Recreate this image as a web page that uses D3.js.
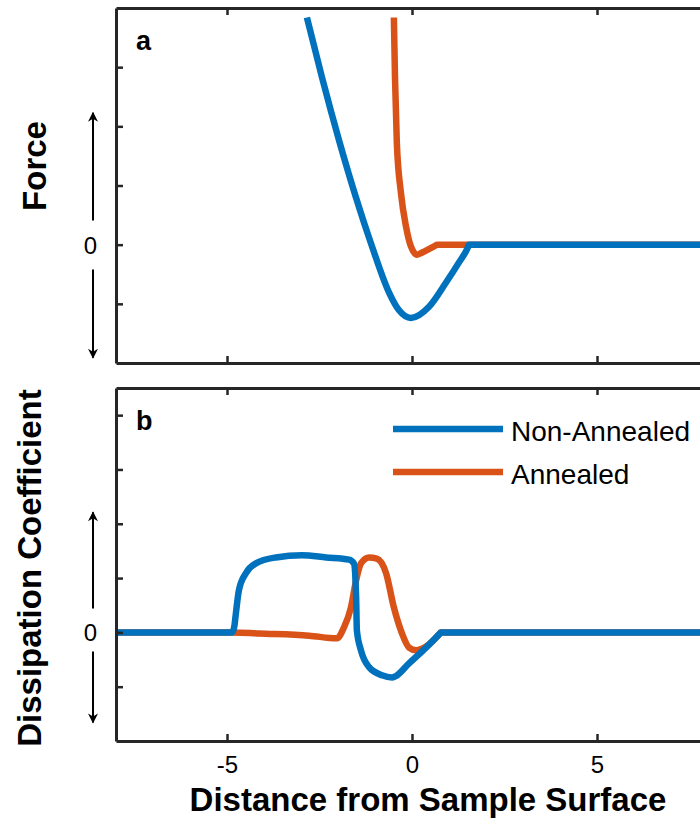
<!DOCTYPE html>
<html>
<head>
<meta charset="utf-8">
<script src="https://cdn.jsdelivr.net/npm/d3@7"></script>
<style>
body { margin: 0; background: #fff; }
svg { display: block; font-family: "Liberation Sans", Arial, Helvetica, sans-serif; }
</style>
</head>
<body>
<svg width="700" height="822"></svg>
<script>
// force curves (panel a)
var forceNonX = [-2.84, -2.43, -1.97, -1.51, -1.08, -0.62, -0.35, -0.03, 0.46, 0.92, 1.27, 1.50, 1.54, 9];
var forceNonY = [3.84, 2.82, 1.76, 0.79, -0.03, -0.81, -1.11, -1.24, -1.05, -0.64, -0.30, -0.06, 0, 0];
var forceAnnX = [-0.49, -0.46, -0.41, -0.30, -0.16, -0.03, 0.14, 0.22, 0.62, 0.68, 9];
var forceAnnY = [3.84, 2.84, 1.72, 0.88, 0.30, -0.03, -0.17, -0.15, -0.02, 0, 0];

// dissipation curves (panel b)
var dissNonX = [-8, -4.86, -4.80, -4.76, -4.68, -4.49, -4.22, -3.68, -2.97, -2.32, -1.70, -1.57, -1.51, -1.49, -1.38, -1.16, -0.81, -0.54, -0.45, -0.08, 0.38, 0.74, 0.78, 9];
var dissNonY = [0, 0, 0.12, 0.35, 0.77, 1.09, 1.27, 1.38, 1.42, 1.38, 1.34, 1.27, 0.65, 0.04, -0.33, -0.64, -0.79, -0.83, -0.81, -0.57, -0.28, -0.03, 0, 0];
var dissAnnX = [-8, -4.86, -4.14, -2.78, -2.03, -1.84, -1.65, -1.51, -1.38, -1.16, -0.95, -0.70, -0.49, -0.27, -0.08, 0.11, 0.40, 0.74, 0.78, 9];
var dissAnnY = [0, 0, -0.02, -0.06, -0.11, 0.09, 0.46, 0.96, 1.27, 1.38, 1.36, 1.09, 0.46, -0.02, -0.28, -0.33, -0.25, -0.03, 0, 0];

var xTicks = [-5, 0, 5];
var forceTicks = [-1, 0, 1, 2, 3];
var dissTicks = [-1, 0, 1, 2, 3, 4];
var seriesNames = ['Non-Annealed', 'Annealed'];
var seriesColors = ['#0072BD', '#D95319'];

var svg = d3.select('svg');
var axisColor = '#262626';

var x = d3.scaleLinear().domain([-8, 9]).range([116, 745]);
var yA = d3.scaleLinear().domain([-2, 4]).range([363, 8]);
var yB = d3.scaleLinear().domain([-2, 4.5]).range([741, 388]);

function zip(xs, ys) {
    return xs.map(function (v, i) { return [v, ys[i]]; });
}

function drawPanel(y, ticks, series, letter, showXLabels, arrows) {
    var g = svg.append('g');
    var y0 = y.range()[0], y1 = y.range()[1];
    var line = d3.line().x(function (d) { return x(d[0]); }).y(function (d) { return y(d[1]); }).curve(d3.curveMonotoneX);

    // annealed first, non-annealed drawn over it
    for (var i = series.length - 1; i >= 0; i--) {
        g.append('path').datum(series[i]).attr('d', line).attr('fill', 'none')
            .attr('stroke', seriesColors[i]).attr('stroke-width', 6.5)
            .attr('stroke-linejoin', 'round');
    }

    // axes (ticks inward, labels only where shown)
    var bottom = d3.axisBottom(x).tickValues(xTicks).tickSizeInner(-7).tickSizeOuter(0)
        .tickFormat(showXLabels ? function (d) { return String(d); } : '');
    var top = d3.axisTop(x).tickValues(xTicks).tickSizeInner(-7).tickSizeOuter(0).tickFormat('');
    var left = d3.axisLeft(y).tickValues(ticks).tickSizeInner(-7).tickSizeOuter(0)
        .tickFormat(function (d) { return d === 0 ? '0' : ''; });

    var ax = [
        g.append('g').attr('transform', 'translate(0,' + y0 + ')').call(bottom),
        g.append('g').attr('transform', 'translate(0,' + y1 + ')').call(top),
        g.append('g').attr('transform', 'translate(' + x.range()[0] + ',0)').call(left)
    ];
    ax.forEach(function (a) {
        a.select('.domain').attr('stroke', axisColor).attr('stroke-width', 3);
        a.selectAll('.tick line').attr('stroke', axisColor).attr('stroke-width', 2.5);
        a.selectAll('.tick text').attr('fill', '#000').attr('font-size', 24)
            .attr('font-family', '"Liberation Sans", Arial, sans-serif');
    });
    ax[0].selectAll('.tick text').attr('dy', '1.2em');
    ax[2].selectAll('.tick text').attr('x', -19).attr('dy', '0.35em');

    // arrows beside the zero label
    arrows.forEach(function (a) {
        g.append('line').attr('x1', 93).attr('x2', 93)
            .attr('y1', y(a[0])).attr('y2', y(a[1]))
            .attr('stroke', '#000').attr('stroke-width', 2)
            .attr('marker-end', 'url(#arrowhead)');
    });

    g.append('text').attr('x', 136).attr('y', y1 + 42).attr('font-size', 27)
        .attr('font-weight', 'bold').text(letter);
    return g;
}

svg.append('defs').append('marker').attr('id', 'arrowhead')
    .attr('viewBox', '0 0 10 10').attr('refX', 9).attr('refY', 5)
    .attr('markerWidth', 14).attr('markerHeight', 10).attr('markerUnits', 'userSpaceOnUse')
    .attr('orient', 'auto')
    .append('path').attr('d', 'M0,0 L10,5 L0,10 L3,5 Z').attr('fill', '#000');

drawPanel(yA, forceTicks, [zip(forceNonX, forceNonY), zip(forceAnnX, forceAnnY)], 'a', false,
    [[0.41, 2.23], [-0.42, -1.91]]);
drawPanel(yB, dissTicks, [zip(dissNonX, dissNonY), zip(dissAnnX, dissAnnY)], 'b', true,
    [[0.44, 2.21], [-0.35, -1.66]]);

// axis titles
svg.append('text').attr('transform', 'translate(46,166) rotate(-90)')
    .attr('text-anchor', 'middle').attr('font-size', 33).attr('font-weight', 'bold').text('Force');
svg.append('text').attr('transform', 'translate(41,568) rotate(-90)')
    .attr('text-anchor', 'middle').attr('font-size', 33).attr('font-weight', 'bold').text('Dissipation Coefficient');
svg.append('text').attr('x', 428).attr('y', 811)
    .attr('text-anchor', 'middle').attr('font-size', 33).attr('font-weight', 'bold').text('Distance from Sample Surface');

// legend
var legend = svg.append('g');
seriesNames.forEach(function (name, i) {
    var ly = 429 + i * 43;
    legend.append('line').attr('x1', 393).attr('x2', 503).attr('y1', ly).attr('y2', ly)
        .attr('stroke', seriesColors[i]).attr('stroke-width', 6.5);
    legend.append('text').attr('x', 511).attr('y', ly + 4).attr('dy', '0.3em')
        .attr('font-size', 28).attr('fill', '#000').text(name);
});
</script>
</body>
</html>
